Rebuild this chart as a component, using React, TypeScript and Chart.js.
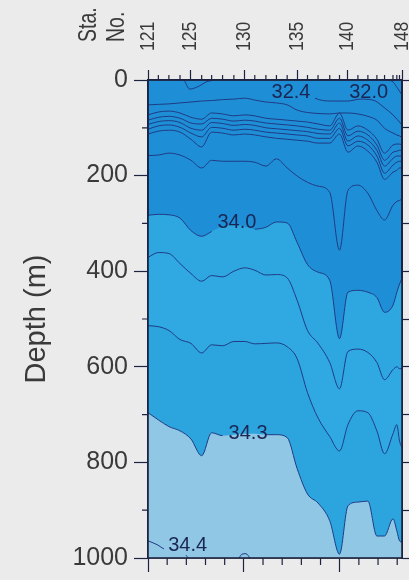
import React, { useEffect, useRef } from 'react';
import { Chart, registerables } from 'chart.js';

Chart.register(...registerables);

// ---------- data ----------
const STATIONS = [121, 122, 123, 124, 125, 126, 127, 128, 129, 130, 131, 132, 133, 134, 135, 136, 137, 138, 139, 140, 141, 142, 143, 144, 145, 146, 147, 148];
const STATION_KM = [0, 5.4, 10.9, 16.7, 22.4, 28.0, 33.2, 38.9, 44.8, 50.5, 55.7, 61.5, 67.0, 72.6, 77.8, 83.2, 88.7, 94.8, 99.9, 104.3, 109.5, 114.7, 119.4, 123.4, 127.8, 129.8, 131.2, 132.5];
const LABELED_STATIONS = [121, 125, 130, 135, 140, 148];

const DEPTH_MAJOR = [0, 200, 400, 600, 800, 1000];
const DEPTH_MINOR = [100, 300, 500, 700, 900];
const DEPTH_RIGHT = [0, 100, 200, 300, 400, 500, 600, 700, 800, 900, 1000];
const KM_MAJOR = [0, 50, 100];
const KM_MINOR = [10, 20, 30, 40, 60, 70, 80, 90, 110, 120, 130];

// contour depths (m) at each station
const C_UPPER_1 = [52, 51, 50, 48, 46, 44, 43, 41, 40, 38, 42, 46, 48, 52, 63, 68, 70, 71, 69, 69, 71, 76, 84, 101, 111, 115, 117, 120];
const C_UPPER_2 = [73, 67, 65, 69, 78, 82, 69, 71, 75, 73, 75, 80, 82, 84, 86, 88, 92, 96, 69, 105, 96, 105, 124, 153, 136, 134, 134, 136];
const C_UPPER_3 = [84, 78, 76, 80, 90, 92, 80, 82, 86, 84, 86, 90, 92, 94, 96, 99, 103, 105, 80, 117, 107, 115, 136, 168, 151, 149, 147, 147];
const C_UPPER_4 = [93, 87, 85, 89, 101, 105, 89, 91, 95, 93, 95, 100, 102, 104, 106, 108, 112, 113, 90, 128, 117, 126, 147, 180, 164, 159, 159, 159];
const C_UPPER_5 = [103, 96, 94, 99, 111, 119, 99, 101, 105, 103, 105, 109, 111, 113, 115, 117, 122, 122, 101, 138, 128, 136, 159, 195, 178, 172, 170, 170];
const C_UPPER_6 = [113, 107, 105, 109, 124, 140, 109, 111, 115, 113, 115, 119, 122, 124, 126, 128, 132, 132, 113, 151, 138, 149, 172, 208, 193, 189, 184, 184];
const C_UPPER_7 = [158, 157, 153, 157, 168, 184, 168, 170, 170, 170, 172, 180, 165, 184, 201, 214, 222, 235, 356, 231, 220, 237, 273, 293, 262, 254, 252, 249];
const C_340 = [283, 281, 282, 289, 315, 327, 317, 306, 304, 306, 312, 308, 297, 299, 340, 386, 402, 419, 541, 444, 440, 444, 455, 486, 471, 444, 427, 415];
const C_341 = [371, 361, 363, 384, 405, 421, 409, 412, 400, 393, 398, 408, 407, 414, 461, 524, 551, 591, 646, 568, 563, 570, 591, 627, 606, 600, 604, 604];
const C_342 = [514, 516, 524, 543, 551, 571, 554, 556, 547, 547, 552, 551, 550, 558, 583, 654, 707, 746, 776, 721, 692, 696, 734, 782, 740, 721, 755, 769];
const C_343 = [696, 711, 725, 734, 751, 786, 738, 744, 742, 740, 740, 742, 742, 748, 813, 866, 885, 922, 992, 891, 883, 881, 954, 954, 918, 943, 964, 967];

// partial contours (km, depth)
const C_324_KM = [75.1, 81.9, 87.1, 94.9, 104.3, 110.6, 117.4, 123.6, 127.8, 132.5];
const C_324_D = [0, 23, 38, 44, 44, 40, 42, 59, 73, 94];
const C_320_KM = [125.2, 127.8, 130.1, 132.5];
const C_320_D = [0, 4, 17, 31];
const C_TOPBUMP_KM = [18.8, 21.8, 27.0, 30.4, 34.8];
const C_TOPBUMP_D = [0, 19, 12, 4, 0];
const C_344_KM = [0, 5.2, 8.3, 19.8, 20.9];
const C_344_D = [964, 973, 981, 994, 1000];
const C_344B_KM = [47.5, 49.0, 51.1, 53.2];
const C_344B_D = [1000, 992, 991, 1000];

// contour labels
const LABEL_TEXT = ['32.4', '32.0', '34.0', '34.3', '34.4'];
const LABEL_KM = [74.6, 115.1, 46.4, 52.2, 20.7];
const LABEL_D = [24, 24, 296, 738, 972];

// ---------- styles ----------
const PAGE_BG = '#ebebeb';
const BAND_TOP = '#1e8fd6';
const BAND_340 = '#2ea6e0';
const BAND_341 = '#30a9e2';
const BAND_342 = '#2ca5df';
const BAND_343 = '#8fc7e5';
const LINE = '#1f3b85';
const FRAME = '#1d2340';
const TEXT = '#3a3a3a';
const LABEL_COLOR = '#1a2552';
const FONT = "'Liberation Sans', Arial, Helvetica, sans-serif";
const LABEL_HALF_W = 22;
const LABEL_HALF_H = 8;

const bySt = (d: number[]) => d.map((v, i) => ({ x: STATION_KM[i], y: v }));
const byPairs = (k: number[], d: number[]) => k.map((v, i) => ({ x: v, y: d[i] }));

const gapColor = (ctx: any) => {
  const c = ctx.chart;
  const xs = c.scales.x;
  const ys = c.scales.y;
  if (!xs || !ys || !ctx.p0 || !ctx.p1) return undefined;
  const mx = (ctx.p0.x + ctx.p1.x) / 2;
  const my = (ctx.p0.y + ctx.p1.y) / 2;
  for (let i = 0; i < LABEL_TEXT.length; i++) {
    const lx = xs.getPixelForValue(LABEL_KM[i]);
    const ly = ys.getPixelForValue(LABEL_D[i]);
    if (Math.abs(mx - lx) < LABEL_HALF_W && Math.abs(my - ly) < LABEL_HALF_H) return 'rgba(0,0,0,0)';
  }
  return undefined;
};

const fillDs = (data: any[], color: string) => ({
  data,
  borderColor: color,
  borderWidth: 0,
  pointRadius: 0,
  cubicInterpolationMode: 'monotone' as const,
  fill: { value: 1000 },
  backgroundColor: color,
  xAxisID: 'x',
  yAxisID: 'y',
});

const lineDs = (data: any[]) => ({
  data,
  borderColor: LINE,
  borderWidth: 1,
  pointRadius: 0,
  cubicInterpolationMode: 'monotone' as const,
  fill: false,
  segment: { borderColor: gapColor },
  xAxisID: 'x',
  yAxisID: 'y',
});

const decor = {
  id: 'decor',
  beforeDraw(chart: any) {
    const { ctx, chartArea: a } = chart;
    ctx.save();
    ctx.fillStyle = PAGE_BG;
    ctx.fillRect(0, 0, chart.width, chart.height);
    ctx.fillStyle = BAND_TOP;
    ctx.fillRect(a.left, a.top, a.right - a.left, a.bottom - a.top);
    ctx.restore();
  },
  afterDatasetsDraw(chart: any) {
    const { ctx } = chart;
    const xs = chart.scales.x;
    const ys = chart.scales.y;
    ctx.save();
    ctx.fillStyle = LABEL_COLOR;
    ctx.font = `20px ${FONT}`;
    ctx.textAlign = 'center';
    ctx.textBaseline = 'middle';
    LABEL_TEXT.forEach((t, i) => {
      ctx.fillText(t, xs.getPixelForValue(LABEL_KM[i]), ys.getPixelForValue(LABEL_D[i]) + 1);
    });
    ctx.restore();
  },
  afterDraw(chart: any) {
    const { ctx, chartArea: a } = chart;
    const xs = chart.scales.x;
    const xt = chart.scales.xTop;
    const ys = chart.scales.y;
    ctx.save();
    // frame
    ctx.strokeStyle = FRAME;
    ctx.lineWidth = 1.6;
    ctx.strokeRect(a.left, a.top, a.right - a.left, a.bottom - a.top);
    // minor ticks
    ctx.lineWidth = 1.2;
    ctx.strokeStyle = FRAME;
    ctx.beginPath();
    DEPTH_MINOR.forEach((d) => {
      const y = ys.getPixelForValue(d);
      ctx.moveTo(a.left - 6, y);
      ctx.lineTo(a.left, y);
    });
    KM_MINOR.forEach((k) => {
      const x = xs.getPixelForValue(k);
      ctx.moveTo(x, a.bottom);
      ctx.lineTo(x, a.bottom + 7);
    });
    STATIONS.forEach((s, i) => {
      if (LABELED_STATIONS.includes(s)) return;
      const x = xt.getPixelForValue(STATION_KM[i]);
      ctx.moveTo(x, a.top);
      ctx.lineTo(x, a.top - 5);
    });
    ctx.stroke();
    // station labels
    ctx.fillStyle = TEXT;
    ctx.font = `20px ${FONT}`;
    ctx.textAlign = 'left';
    ctx.textBaseline = 'middle';
    STATIONS.forEach((s, i) => {
      if (!LABELED_STATIONS.includes(s)) return;
      const x = xt.getPixelForValue(STATION_KM[i]);
      ctx.save();
      ctx.translate(x, a.top - 29);
      ctx.rotate(-Math.PI / 2);
      ctx.scale(0.88, 1);
      ctx.fillText(String(s), 0, 0);
      ctx.restore();
    });
    // "Sta. No."
    ctx.font = `26px ${FONT}`;
    ['Sta.', 'No.'].forEach((t, i) => {
      ctx.save();
      ctx.translate(a.left - 59 + i * 28, a.top - 38);
      ctx.rotate(-Math.PI / 2);
      ctx.scale(0.75, 1);
      ctx.fillText(t, 0, 0);
      ctx.restore();
    });
    ctx.restore();
  },
};

export default function App() {
  const ref = useRef<HTMLCanvasElement>(null);
  useEffect(() => {
    document.body.style.margin = '0';
    document.body.style.background = PAGE_BG;
    const canvas = ref.current!;
    const chart = new Chart(canvas, {
      type: 'line',
      data: {
        datasets: [
          fillDs(bySt(C_343), BAND_343),
          fillDs(bySt(C_342), BAND_342),
          fillDs(bySt(C_341), BAND_341),
          fillDs(bySt(C_340), BAND_340),
          lineDs(bySt(C_343)),
          lineDs(bySt(C_342)),
          lineDs(bySt(C_341)),
          lineDs(bySt(C_340)),
          lineDs(bySt(C_UPPER_7)),
          lineDs(bySt(C_UPPER_6)),
          lineDs(bySt(C_UPPER_5)),
          lineDs(bySt(C_UPPER_4)),
          lineDs(bySt(C_UPPER_3)),
          lineDs(bySt(C_UPPER_2)),
          lineDs(bySt(C_UPPER_1)),
          lineDs(byPairs(C_324_KM, C_324_D)),
          lineDs(byPairs(C_320_KM, C_320_D)),
          lineDs(byPairs(C_TOPBUMP_KM, C_TOPBUMP_D)),
          lineDs(byPairs(C_344_KM, C_344_D)),
          lineDs(byPairs(C_344B_KM, C_344B_D)),
        ] as any,
      },
      options: {
        responsive: false,
        animation: false,
        events: [],
        layout: { padding: 0 },
        plugins: {
          legend: { display: false },
          tooltip: { enabled: false },
          filler: { drawTime: 'beforeDatasetsDraw' },
        },
        scales: {
          x: {
            type: 'linear',
            position: 'bottom',
            min: 0,
            max: 132.5,
            bounds: 'data',
            afterBuildTicks: (s: any) => { s.ticks = KM_MAJOR.map((v) => ({ value: v })); },
            afterFit: (s: any) => { s.height = 22; },
            ticks: { display: false },
            grid: { drawOnChartArea: false, drawTicks: true, tickLength: 14, tickColor: FRAME, tickWidth: 1.2 },
            border: { display: true, color: FRAME, width: 1.6 },
          },
          xTop: {
            type: 'linear',
            position: 'top',
            min: 0,
            max: 132.5,
            bounds: 'data',
            afterBuildTicks: (s: any) => {
              s.ticks = STATIONS.map((st, i) => ({ st, value: STATION_KM[i] }))
                .filter((t) => LABELED_STATIONS.includes(t.st))
                .map((t) => ({ value: t.value }));
            },
            afterFit: (s: any) => { s.height = 80; },
            ticks: { display: false },
            grid: { drawOnChartArea: false, drawTicks: true, tickLength: 10, tickColor: FRAME, tickWidth: 1.2 },
            border: { display: true, color: FRAME, width: 1.6 },
          },
          y: {
            type: 'linear',
            position: 'left',
            reverse: true,
            min: 0,
            max: 1000,
            bounds: 'data',
            afterBuildTicks: (s: any) => { s.ticks = DEPTH_MAJOR.map((v) => ({ value: v })); },
            afterFit: (s: any) => { s.width = 148; },
            ticks: { padding: 6, color: TEXT, font: { size: 25, family: FONT }, callback: (v: any) => String(v) },
            grid: { drawOnChartArea: false, drawTicks: true, tickLength: 14, tickColor: FRAME, tickWidth: 1.2 },
            border: { display: true, color: FRAME, width: 1.6 },
            title: { display: true, text: 'Depth (m)', color: TEXT, font: { size: 29, family: FONT }, padding: { top: 20, bottom: 0 } },
          },
          yR: {
            type: 'linear',
            position: 'right',
            reverse: true,
            min: 0,
            max: 1000,
            bounds: 'data',
            afterBuildTicks: (s: any) => { s.ticks = DEPTH_RIGHT.map((v) => ({ value: v })); },
            afterFit: (s: any) => { s.width = 7; },
            ticks: { display: false },
            grid: { drawOnChartArea: false, drawTicks: true, tickLength: 7, tickColor: FRAME, tickWidth: 1.2 },
            border: { display: true, color: FRAME, width: 2 },
          },
        },
      } as any,
      plugins: [decor],
    });
    return () => chart.destroy();
  }, []);
  return (
    <div style={{ width: 409, height: 580, position: 'relative' }}>
      <canvas ref={ref} width={409} height={580} style={{ display: 'block' }} />
    </div>
  );
}
